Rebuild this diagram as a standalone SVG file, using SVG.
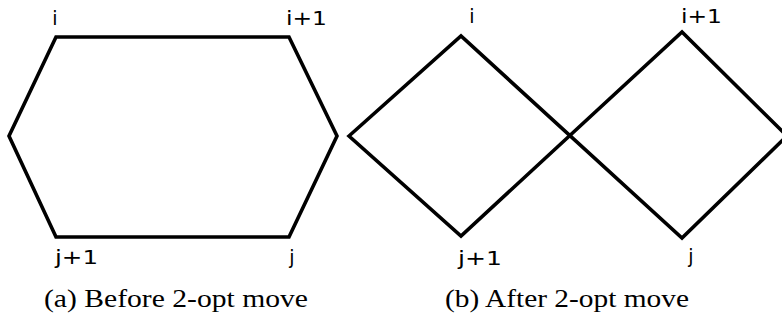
<svg xmlns="http://www.w3.org/2000/svg" width="782" height="323" viewBox="0 0 782 323">
<style>
.tour{fill:none;stroke:#000;stroke-width:3.6;stroke-linejoin:miter}
.lbl{font-family:"DejaVu Sans",sans-serif;font-size:19px;fill:#000}
.cap{font-family:"Liberation Serif",serif;font-size:26px;fill:#000}
</style>
<rect width="782" height="323" fill="#fff"/>
<g id="connectors">
<polygon class="tour" points="56,37 289,37 337,136 289,237 56,237 9,136"/>
<polygon class="tour" points="349,136 461,36 682,238 787,136 682,32 461,236"/>
</g>
<g id="node-a-i"><text class="lbl" x="55" y="25" text-anchor="middle">i</text></g>
<g id="node-a-i1"><text class="lbl" x="286" y="25" textLength="41" lengthAdjust="spacingAndGlyphs">i+1</text></g>
<g id="node-a-j1"><text class="lbl" x="55" y="264" textLength="43" lengthAdjust="spacingAndGlyphs">j+1</text></g>
<g id="node-a-j"><text class="lbl" x="292" y="264" text-anchor="middle">j</text></g>
<g id="node-b-i"><text class="lbl" x="472" y="23" text-anchor="middle">i</text></g>
<g id="node-b-i1"><text class="lbl" x="681" y="23" textLength="41" lengthAdjust="spacingAndGlyphs">i+1</text></g>
<g id="node-b-j1"><text class="lbl" x="458" y="265" textLength="44" lengthAdjust="spacingAndGlyphs">j+1</text></g>
<g id="node-b-j"><text class="lbl" x="691" y="263" text-anchor="middle">j</text></g>
<g id="captions">
<text class="cap" x="44" y="307" textLength="264" lengthAdjust="spacingAndGlyphs">(a) Before 2-opt move</text>
<text class="cap" x="445" y="307" textLength="244" lengthAdjust="spacingAndGlyphs">(b) After 2-opt move</text>
</g>
</svg>
